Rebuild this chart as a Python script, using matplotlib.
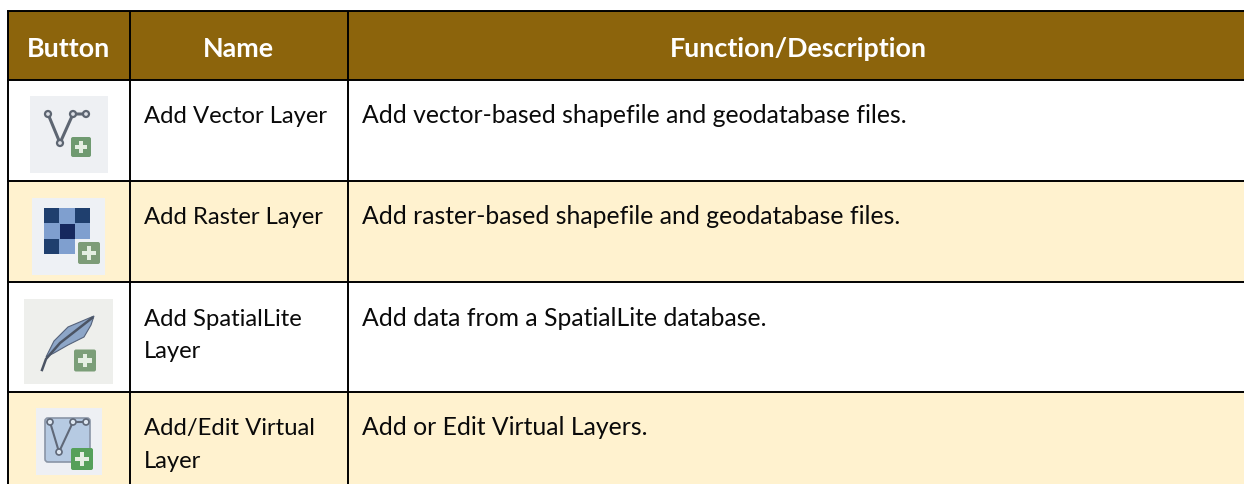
import matplotlib
matplotlib.use("Agg")
import matplotlib.pyplot as plt
from matplotlib.patches import Rectangle, Polygon, Circle, FancyBboxPatch

plt.rcParams['font.family'] = ['Lato', 'DejaVu Sans']

headers = ["Button", "Name", "Function/Description"]
names = [["Add Vector Layer"], ["Add Raster Layer"], ["Add SpatialLite", "Layer"], ["Add/Edit Virtual", "Layer"]]
descriptions = ["Add vector-based shapefile and geodatabase files.",
                "Add raster-based shapefile and geodatabase files.",
                "Add data from a SpatialLite database.",
                "Add or Edit Virtual Layers."]

W, H = 1244, 485
x_left, x_c1, x_c2 = 8.2, 130, 348
y_lines = [12, 81, 181.5, 283, 392.7, 485]
header_color = "#8C640C"
band_color = "#FFF2CF"
line_color = "#000000"
text_color = "#0A0A0A"
fs_header = 19.4
fs_name = 17.2
fs_desc = 17.8

fig = plt.figure(figsize=(W / 100, H / 100), dpi=100)
ax = fig.add_axes([0, 0, 1, 1])
ax.set_xlim(0, W)
ax.set_ylim(H, 0)
ax.axis("off")

# bands
ax.add_patch(Rectangle((x_left, y_lines[0]), W - x_left, y_lines[1] - y_lines[0], fc=header_color, ec="none"))
for i in (1, 3):
    ax.add_patch(Rectangle((x_left, y_lines[i + 1]), W - x_left, y_lines[i + 2] - y_lines[i + 1], fc=band_color, ec="none"))

# rules
for y in y_lines[:-1]:
    ax.plot([x_left - 1, W], [y, y], color=line_color, lw=1.4, solid_capstyle="butt", zorder=3)
for x in (x_left, x_c1, x_c2):
    ax.plot([x, x], [y_lines[0], H], color=line_color, lw=1.4, solid_capstyle="butt", zorder=3)

# header text
for t, cx in zip(headers, [68.5, 238.5, 798]):
    ax.text(cx, 57, t, color="white", fontsize=fs_header, fontweight="bold", ha="center", va="baseline")

# body text
name_y = [[122.7], [224], [326, 358], [435, 468]]
desc_y = [122.7, 224, 326, 435]
for lines, ys, d, dy in zip(names, name_y, descriptions, desc_y):
    for l, y in zip(lines, ys):
        ax.text(144.3, y, l, color=text_color, fontsize=fs_name, ha="left", va="baseline")
    ax.text(362.5, dy, d, color=text_color, fontsize=fs_desc, ha="left", va="baseline")


def plus(cx, cy, s, col="#6E9A6C"):
    ax.add_patch(FancyBboxPatch((cx - s / 2 + 1, cy - s / 2 + 1), s - 2, s - 2, boxstyle="round,pad=1,rounding_size=2",
                                fc=col, ec="none", zorder=5))
    a, b = s * 0.30, s * 0.11
    ax.add_patch(Rectangle((cx - a, cy - b), 2 * a, 2 * b, fc="#E4EEE2", ec="none", zorder=6))
    ax.add_patch(Rectangle((cx - b, cy - a), 2 * b, 2 * a, fc="#E4EEE2", ec="none", zorder=6))


# icon 1: vector
ax.add_patch(Rectangle((30, 97), 78, 77, fc="#EEF0F3", ec="none"))
ax.plot([48, 60, 73, 86], [115, 144, 115, 115], color="#5E6672", lw=2.2, zorder=4)
for px, py in [(48, 115), (60, 144), (73, 115), (86, 115)]:
    ax.add_patch(Circle((px, py), 3, fc="#DDE0E6", ec="#5E6672", lw=1.6, zorder=5))
plus(81, 148, 20, "#6F9A70")

# icon 2: raster
ax.add_patch(Rectangle((32, 199), 73, 77, fc="#EEF1F5", ec="none"))
ax.add_patch(Rectangle((44, 209), 46, 46, fc="#7F9FCF", ec="none", zorder=4))
for cx, cy, c in [(44, 209, "#1F3F6E"), (75, 209, "#1F3F6E"), (60, 224.5, "#16285E"), (44, 240, "#1F3F6E")]:
    ax.add_patch(Rectangle((cx, cy), 15, 15, fc=c, ec="none", zorder=5))
ax.add_patch(Rectangle((75, 240), 15, 15, fc="#EEF1F5", ec="none", zorder=5))
plus(89, 254, 22, "#7D9C78")

# icon 3: feather
ax.add_patch(Rectangle((24, 300), 89, 85, fc="#EEEFEC", ec="none"))
ax.add_patch(Polygon([(46, 358), (54, 342), (68, 328), (94, 317), (91, 326), (84, 338), (68, 346), (54, 354)],
                     fc="#8DA6C8", ec="#55627A", lw=0.8, zorder=4))
ax.plot([42, 46, 60, 92], [371, 360, 344, 319], color="#4B5464", lw=1.8, zorder=5)
plus(85, 361.5, 22, "#7B9E78")

# icon 4: virtual
ax.add_patch(Rectangle((36, 409), 66, 67, fc="#EEF0F4", ec="none"))
ax.add_patch(FancyBboxPatch((47, 421), 41, 40, boxstyle="round,pad=2,rounding_size=3", fc="#B6CAE2", ec="#8A95A6", lw=1.2, zorder=4))
ax.plot([50, 59, 73, 86], [423, 453, 423, 423], color="#5F6878", lw=1.5, zorder=5)
for px, py in [(50, 423), (59, 453), (73, 423), (86, 423)]:
    ax.add_patch(Circle((px, py), 3, fc="#DDE6F0", ec="#5F6878", lw=1.2, zorder=6))
plus(82, 460, 22, "#55A05A")

fig.savefig("out.png", dpi=100, facecolor="white")
